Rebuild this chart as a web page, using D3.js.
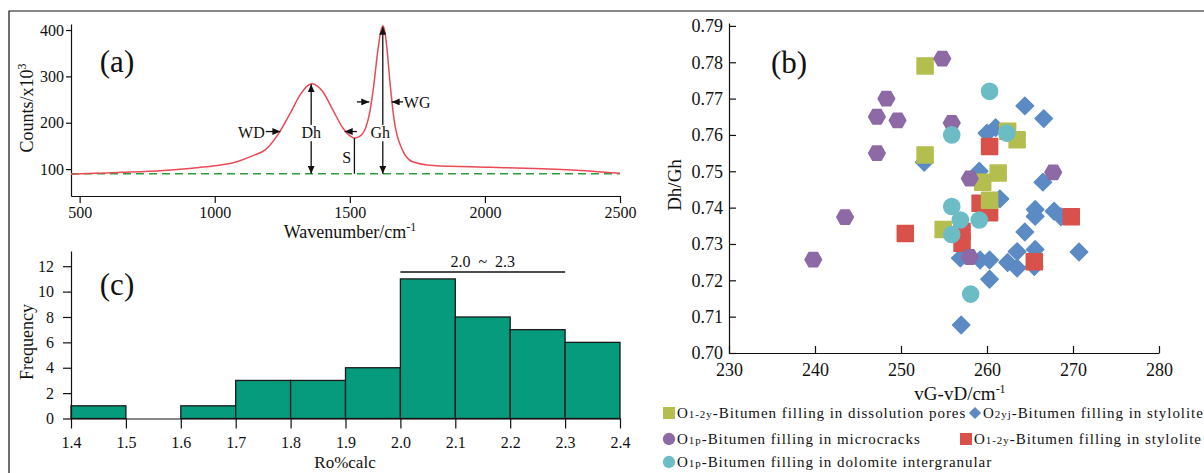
<!DOCTYPE html>
<html>
<head>
<meta charset="utf-8">
<script src="https://cdn.jsdelivr.net/npm/d3@7"></script>
<style>
  body { margin: 0; background: #fff; }
  text { font-family: "Liberation Serif", "Times New Roman", serif; fill: #111; }
  .axis path, .axis line { stroke: #111; stroke-width: 1.2; }
  .axis text { font-family: "Liberation Serif", serif; fill: #111; }
</style>
</head>
<body>
<script>
// ---- (a) Raman spectrum
var ramanWavenumber = [468, 560, 659, 810, 916, 999, 1082, 1142, 1188, 1241, 1279, 1316, 1340, 1359, 1380, 1400, 1437, 1475, 1505, 1517, 1535, 1558, 1573, 1588, 1604, 1614, 1622, 1630, 1638, 1649, 1664, 1694, 1732, 1808, 2019, 2322, 2500];
var ramanCounts     = [89, 91, 93, 97, 102, 107, 116, 129, 142, 181, 220, 260, 278, 284, 279, 267, 228, 188, 170, 167, 170, 188, 220, 278, 357, 395, 409, 395, 357, 285, 206, 142, 116, 108, 104, 98, 91];
var baselineCounts = 90;
var ramanXTicks = [500, 1000, 1500, 2000, 2500];
var ramanYTicks = [100, 200, 300, 400];

// ---- (c) Ro%calc histogram
var roBinStart = [1.4, 1.5, 1.6, 1.7, 1.8, 1.9, 2.0, 2.1, 2.2, 2.3];
var roBinWidth = 0.1;
var roFrequency = [1, 0, 1, 3, 3, 4, 11, 8, 7, 6];
var roXTicks = [1.4, 1.5, 1.6, 1.7, 1.8, 1.9, 2.0, 2.1, 2.2, 2.3, 2.4];
var roYTicks = [0, 2, 4, 6, 8, 10, 12];

// ---- (b) Dh/Gh vs vG-vD, one list per group [vG-vD, Dh/Gh]
var stylolite2yj = [[264.4,0.768],[266.6,0.7645],[261.0,0.762],[260.0,0.7605],[252.7,0.7525],[259.1,0.750],
  [261.5,0.7424],[266.5,0.747],[265.6,0.7395],[265.6,0.7376],[267.8,0.739],[268.6,0.7375],[264.4,0.7333],
  [256.9,0.7261],[259.2,0.7256],[260.3,0.7256],[262.4,0.7249],[263.5,0.7279],[263.5,0.7234],[265.6,0.7285],
  [265.5,0.7238],[260.3,0.7203],[270.7,0.7278],[257.0,0.7077]];
var stylolite12y = [[260.3,0.7568],[259.2,0.7412],[260.3,0.7386],[269.8,0.7375],[250.5,0.7329],[257.1,0.7334],[257.1,0.7302],[265.5,0.7251]];
var dissolution12y = [[252.8,0.779],[252.8,0.7545],[262.4,0.761],[263.5,0.7587],[261.3,0.7495],[259.5,0.747],[260.3,0.742],[254.9,0.734]];
var microcrack1p = [[254.8,0.781],[248.3,0.770],[247.2,0.765],[249.6,0.764],[255.9,0.7633],[247.2,0.755],[258.0,0.748],
  [267.7,0.7497],[243.5,0.7374],[239.8,0.7257],[258.0,0.7264]];
var dolomite1p = [[260.3,0.772],[255.9,0.760],[262.3,0.7605],[255.9,0.7403],[256.9,0.7366],[259.1,0.7366],[255.9,0.7326],[258.1,0.7162]];
var scatterXTicks = [230, 240, 250, 260, 270, 280];
var scatterYTicks = [0.70, 0.71, 0.72, 0.73, 0.74, 0.75, 0.76, 0.77, 0.78, 0.79];

var colYellow = "#b4be4e", colBlue = "#5b8ac4", colPurple = "#8d69a6", colRed = "#d8514a", colTeal = "#6cbcc6";

var svg = d3.select("body").append("svg")
    .attr("width", 1204)
    .attr("height", 473);

// frame
svg.append("path").attr("d", "M9,473V11H1204").attr("fill", "none").attr("stroke", "#111").attr("stroke-width", 1.2);

svg.append("defs").append("marker")
    .attr("id", "arr").attr("markerUnits", "userSpaceOnUse")
    .attr("markerWidth", 9).attr("markerHeight", 7)
    .attr("refX", 8).attr("refY", 3.5).attr("orient", "auto")
  .append("path").attr("d", "M0,0L8,3.5L0,7Z").attr("fill", "#111");

function fmt(f) { return d3.format(f); }

/* ================= (a) ================= */
var xA = d3.scaleLinear().domain([468, 2500]).range([71, 620]);
var yA = d3.scaleLinear().domain([42, 413]).range([196, 24]);

svg.append("g").attr("class", "axis").attr("transform", "translate(0,196)")
    .call(d3.axisBottom(xA).tickValues(ramanXTicks).tickSize(7).tickSizeOuter(0).tickPadding(4).tickFormat(fmt("d")))
    .selectAll("text").style("font-size", "16px");
svg.append("g").attr("class", "axis").attr("transform", "translate(71,0)")
    .call(d3.axisLeft(yA).tickValues(ramanYTicks).tickSize(5).tickSizeOuter(0).tickPadding(2))
    .selectAll("text").style("font-size", "16px");

svg.append("line")
    .attr("x1", xA(468)).attr("x2", xA(2500))
    .attr("y1", yA(baselineCounts)).attr("y2", yA(baselineCounts))
    .attr("stroke", "#2f9b3c").attr("stroke-width", 1.5).attr("stroke-dasharray", "8,5");

var ramanLine = d3.line()
    .x(function(d, i) { return xA(ramanWavenumber[i]); })
    .y(function(d) { return yA(d); })
    .curve(d3.curveMonotoneX);
svg.append("path").datum(ramanCounts)
    .attr("d", ramanLine)
    .attr("fill", "none").attr("stroke", "#e84b55").attr("stroke-width", 1.5);

// annotations
function arrow(x1, y1, x2, y2, head) {
  var l = svg.append("line").attr("x1", x1).attr("y1", y1).attr("x2", x2).attr("y2", y2)
      .attr("stroke", "#111").attr("stroke-width", 1.3);
  if (head) l.attr("marker-end", "url(#arr)");
}
function label(x, y, s, size, anchor) {
  return svg.append("text").attr("x", x).attr("y", y).attr("text-anchor", anchor || "middle")
      .style("font-size", size + "px").text(s);
}
arrow(xA(1357), yA(195), xA(1357), yA(283), true);
arrow(xA(1357), yA(160), xA(1357), yA(90), true);
label(xA(1357), yA(167), "Dh", 16);
arrow(xA(1622), yA(195), xA(1622), yA(407), true);
arrow(xA(1622), yA(160), xA(1622), yA(90), true);
label(xA(1613), yA(167), "Gh", 16);
arrow(xA(1517), yA(167), xA(1517), yA(90), false);
label(xA(1505), yA(113), "S", 16, "end");
label(xA(1185), yA(167), "WD", 16, "end");
arrow(xA(1189), yA(181), xA(1243), yA(181), true);
arrow(xA(1526), yA(181), xA(1481), yA(181), true);
arrow(xA(1526), yA(245), xA(1572), yA(245), true);
arrow(xA(1697), yA(245), xA(1655), yA(245), true);
label(xA(1700), yA(232), "WG", 16, "start");
label(117, 72, "(a)", 31);

var ya = svg.append("text").attr("transform", "translate(33,108) rotate(-90)").attr("text-anchor", "middle").style("font-size", "18px");
ya.append("tspan").text("Counts/x10");
ya.append("tspan").attr("dy", -7).style("font-size", "12px").text("3");
var xa = svg.append("text").attr("x", 350).attr("y", 238).attr("text-anchor", "middle").style("font-size", "18px");
xa.append("tspan").text("Wavenumber/cm");
xa.append("tspan").attr("dy", -7).style("font-size", "12px").text("-1");

/* ================= (c) ================= */
var xC = d3.scaleLinear().domain([1.4, 2.4]).range([71, 620]);
var yC = d3.scaleLinear().domain([0, 13.2]).range([418.5, 251]);

svg.append("g").selectAll("rect")
    .data(roFrequency.map(function(f, i) { return {x0: roBinStart[i], f: f}; }).filter(function(d) { return d.f > 0; }))
  .enter().append("rect")
    .attr("x", function(d) { return xC(d.x0); })
    .attr("width", function(d) { return xC(d.x0 + roBinWidth) - xC(d.x0); })
    .attr("y", function(d) { return yC(d.f); })
    .attr("height", function(d) { return yC(0) - yC(d.f); })
    .attr("fill", "#069b7d").attr("stroke", "#1a1a1a").attr("stroke-width", 1.3);

svg.append("g").attr("class", "axis").attr("transform", "translate(0,418.5)")
    .call(d3.axisBottom(xC).tickValues(roXTicks).tickSize(10).tickSizeOuter(0).tickPadding(8).tickFormat(fmt(".1f")))
    .selectAll("text").style("font-size", "16px");
svg.append("g").attr("class", "axis").attr("transform", "translate(71,0)")
    .call(d3.axisLeft(yC).tickValues(roYTicks).tickSize(8).tickSizeOuter(0).tickPadding(9))
    .selectAll("text").style("font-size", "16px");

svg.append("line").attr("x1", xC(2.0)).attr("x2", xC(2.3)).attr("y1", 272).attr("y2", 272)
    .attr("stroke", "#111").attr("stroke-width", 1.5);
label(xC(2.15), 267, "2.0  ~  2.3", 16).style("white-space", "pre");
label(117, 295, "(c)", 31);
svg.append("text").attr("transform", "translate(33,342) rotate(-90)").attr("text-anchor", "middle")
    .style("font-size", "18px").text("Frequency");
label(345, 468, "Ro%calc", 17);

/* ================= (b) ================= */
var xB = d3.scaleLinear().domain([230, 280]).range([729, 1159]);
var yB = d3.scaleLinear().domain([0.70, 0.7908]).range([353, 23]);

svg.append("g").attr("class", "axis").attr("transform", "translate(0,353)")
    .call(d3.axisBottom(xB).tickValues(scatterXTicks).tickSize(-7).tickSizeOuter(0).tickPadding(10))
    .selectAll("text").style("font-size", "18px");
svg.append("g").attr("class", "axis").attr("transform", "translate(729,0)")
    .call(d3.axisLeft(yB).tickValues(scatterYTicks).tickSize(-7).tickSizeOuter(0).tickPadding(6).tickFormat(fmt(".2f")))
    .selectAll("text").style("font-size", "18px");

function hexPath(r) {
  var p = [];
  for (var k = 0; k < 6; k++) {
    var a = Math.PI / 3 * k;
    p.push([r * Math.cos(a), r * Math.sin(a)]);
  }
  return "M" + p.join("L") + "Z";
}
var sqSym = d3.symbol().type(d3.symbolSquare).size(256)();
var diaSym = d3.symbol().type(d3.symbolSquare).size(150)();
var cirSym = d3.symbol().type(d3.symbolCircle).size(205)();

function plotGroup(data, d, color, rot) {
  svg.append("g").selectAll("path").data(data).enter().append("path")
    .attr("d", d)
    .attr("transform", function(p) { return "translate(" + xB(p[0]) + "," + yB(p[1]) + ")" + (rot ? " rotate(45)" : ""); })
    .attr("fill", color).attr("stroke", color).attr("stroke-width", 1.5).attr("stroke-linejoin", "round");
}
plotGroup(stylolite2yj, diaSym, colBlue, true);
plotGroup(stylolite12y, sqSym, colRed, false);
plotGroup(dissolution12y, sqSym, colYellow, false);
plotGroup(microcrack1p, hexPath(8.3), colPurple, false);
plotGroup(dolomite1p, cirSym, colTeal, false);

label(789, 73, "(b)", 31);
svg.append("text").attr("transform", "translate(681,185) rotate(-90)").attr("text-anchor", "middle")
    .style("font-size", "19px").text("Dh/Gh");
var xb = svg.append("text").attr("x", 960).attr("y", 400).attr("text-anchor", "middle").style("font-size", "19px");
xb.append("tspan").text("vG-vD/cm");
xb.append("tspan").attr("dy", -7).style("font-size", "12px").text("-1");

// legend
var legend = [
  {sym: "square", color: colYellow, x: 669, y: 413, main: "O", sub: "1-2y", rest: "-Bitumen filling in dissolution pores"},
  {sym: "diamond", color: colBlue, x: 975, y: 413, main: "O", sub: "2yj", rest: "-Bitumen filling in stylolite"},
  {sym: "circle", color: colPurple, x: 669, y: 439, main: "O", sub: "1p", rest: "-Bitumen filling in microcracks"},
  {sym: "square", color: colRed, x: 966, y: 439, main: "O", sub: "1-2y", rest: "-Bitumen filling in stylolite"},
  {sym: "circle", color: colTeal, x: 669, y: 462, main: "O", sub: "1p", rest: "-Bitumen filling in dolomite intergranular"}
];
legend.forEach(function(L) {
  var s = L.sym === "circle" ? d3.symbol().type(d3.symbolCircle).size(120)()
        : d3.symbol().type(d3.symbolSquare).size(L.sym === "diamond" ? 75 : 144)();
  svg.append("path").attr("d", s).attr("fill", L.color)
    .attr("transform", "translate(" + L.x + "," + L.y + ")" + (L.sym === "diamond" ? " rotate(45)" : ""));
  var t = svg.append("text").attr("x", L.x + 8).attr("y", L.y + 5).style("font-size", "15px").style("letter-spacing", "0.95px");
  t.append("tspan").text(L.main);
  t.append("tspan").style("font-size", "11px").text(L.sub);
  t.append("tspan").text(L.rest);
});
</script>
</body>
</html>
